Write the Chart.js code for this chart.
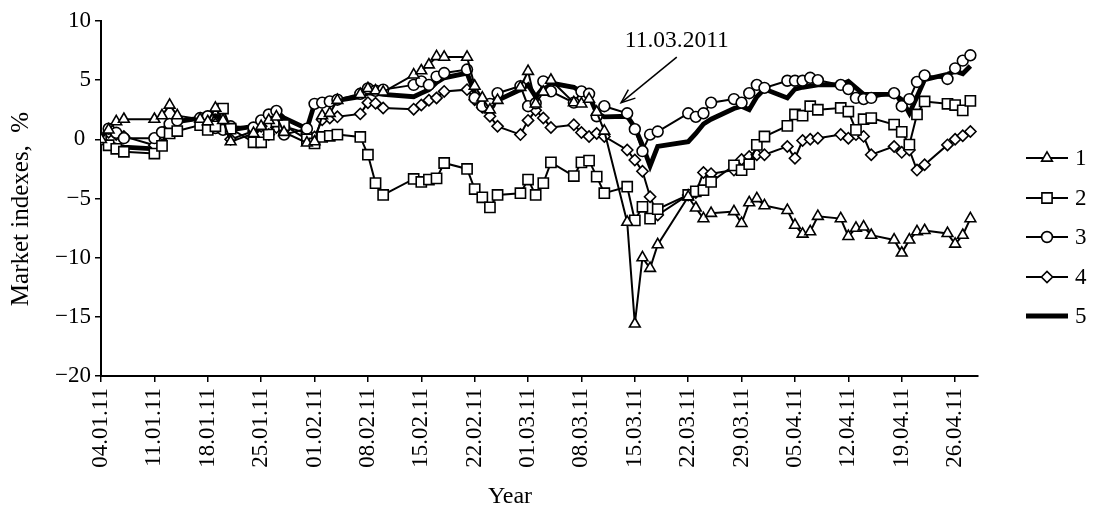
<!DOCTYPE html>
<html><head><meta charset="utf-8">
<script src="https://cdn.jsdelivr.net/npm/chart.js@4.4.0/dist/chart.umd.min.js"></script>
<style>html,body{margin:0;padding:0;background:#fff}#wrap{width:1094px;height:509px}</style>
</head><body><div id="wrap"><canvas id="c" width="1094" height="509"></canvas></div>
<script>
// Trading days (dd.mm, 2011)
const dates = [
 '04.01','05.01','06.01','07.01','11.01','12.01','13.01','14.01','17.01','18.01','19.01','20.01','21.01','24.01','25.01','26.01','27.01','28.01','31.01',
 '01.02','02.02','03.02','04.02','07.02','08.02','09.02','10.02','14.02','15.02','16.02','17.02','18.02','21.02','22.02','23.02','24.02','25.02','28.02',
 '01.03','02.03','03.03','04.03','07.03','08.03','09.03','10.03','11.03','14.03','15.03','16.03','17.03','18.03','22.03','23.03','24.03','25.03','28.03','29.03','30.03','31.03',
 '01.04','04.04','05.04','06.04','07.04','08.04','11.04','12.04','13.04','14.04','15.04','18.04','19.04','20.04','21.04','22.04','25.04','26.04','27.04','28.04'
];
const series1 = [
 0,0.8,1.5,1.7, 1.7,2.0,2.9,2.0, 1.7,1.5,2.65,1.6,-0.2, 0.5,1.1,1.6,1.9,0.6, -0.3,
 -0.2,2.0,2.2,3.3, 3.8,4.3,4.1,4.0, 5.45,5.8,6.3,7.0,6.95, 6.95,4.5,3.5,2.5,3.3, 4.4,
 5.75,3.0,4.0,5.0, 3.1,3.0,3.4,2.3,0.7, -7.0,-15.6,-10.0,-10.9,-8.9, -4.85,-5.8,-6.7,-6.25, -6.1,-7.1,-5.35,-5.0,
 -5.6, -6.0,-7.25,-8.0,-7.8,-6.5, -6.7,-8.2,-7.5,-7.4,-8.1, -8.5,-9.6,-8.5,-7.8,-7.7, -7.95,-8.85,-8.1,-6.7
];
const series2 = [
 0,-0.5,-0.8,-1.05, -1.2,-0.55,0.5,0.7, 1.2,0.8,1.1,2.6,0.9, -0.25,-0.25,0.4,1.5,1.2, 0.0,
 -0.35,0.2,0.3,0.4, 0.2,-1.3,-3.7,-4.7, -3.35,-3.6,-3.4,-3.3,-2.0, -2.5,-4.2,-4.9,-5.75,-4.7, -4.55,
 -3.4,-4.7,-3.7,-1.95, -3.1,-1.95,-1.8,-3.15,-4.55, -4.0,-6.85,-5.7,-6.7,-5.9, -4.7,-4.4,-4.3,-3.6, -2.2,-2.6,-2.1,-0.47,
 0.24, 1.14,2.1,2.0,2.8,2.5, 2.65,2.35,0.8,1.7,1.8, 1.25,0.63,-0.45,2.1,3.2, 3.0,2.9,2.45,3.25
];
const series3 = [
 0,0.9,0.55,0.1, 0.1,0.6,1.3,1.6, 1.8,1.95,0.95,0.8,1.1, 1.0,1.6,2.1,2.4,0.4, 0.9,
 3.0,3.1,3.2,3.35, 3.85,4.3,4.1,4.2, 4.6,4.9,4.6,5.3,5.6, 5.9,3.5,2.8,3.0,3.9, 4.5,
 2.8,3.05,4.9,4.05, 3.1,4.05,3.85,1.95,2.8, 2.2,0.86,-1.0,0.4,0.66, 2.2,1.9,2.2,3.1, 3.4,3.1,3.9,4.6,
 4.35, 4.95,4.95,4.95,5.2,5.0, 4.6,4.25,3.5,3.4,3.5, 3.9,2.8,3.4,4.85,5.4, 5.1,6.0,6.65,7.1
];
const series4 = [
 0,0.6,0.4,0.25, -0.5,0.4,1.1,1.5, 1.7,1.9,1.3,1.0,0.0, 0.7,1.1,0.4,1.0,1.1, 0.5,
 0.2,1.65,1.8,1.9, 2.15,3.1,3.05,2.65, 2.55,2.9,3.3,3.5,4.05, 4.2,3.35,2.7,1.95,1.1, 0.4,
 1.6,2.45,1.8,1.0, 1.23,0.58,0.24,0.5,0.24, -0.9,-1.75,-2.7,-4.85,-6.4, -4.7,-4.5,-2.8,-2.9, -2.6,-1.7,-1.45,-1.3,
 -1.3, -0.6,-1.6,-0.1,0.0,0.1, 0.4,0.1,0.4,0.25,-1.3, -0.6,-1.1,-0.9,-2.6,-2.15, -0.47,0.0,0.3,0.66
];
const series5 = [
 0,-0.3,-0.5,-0.65, -0.8,-0.3,1.0,1.5, 1.8,1.9,2.0,1.7,0.8, 1.1,1.6,2.2,2.4,1.8, 0.9,
 3.0,3.1,3.2,3.3, 3.6,3.9,3.9,3.8, 3.6,3.9,4.2,4.8,5.2, 5.6,3.9,3.0,2.8,3.3, 4.2,
 4.6,3.6,4.35,4.75, 4.4,4.0,3.7,2.2,1.9, 1.95,1.0,-0.5,-2.25,-0.6, -0.2,0.5,1.3,1.7, 2.6,2.8,2.5,3.6,
 4.25, 3.5,4.25,4.4,4.5,4.6, 4.6,4.9,4.35,3.8,3.8, 3.8,3.35,2.2,3.6,5.05, 5.5,5.75,5.55,6.2
];
const seriesLabels = ['1','2','3','4','5'];
const xTickLabels = ['04.01.11','11.01.11','18.01.11','25.01.11','01.02.11','08.02.11','15.02.11','22.02.11',
 '01.03.11','08.03.11','15.03.11','22.03.11','29.03.11','05.04.11','12.04.11','19.04.11','26.04.11'];
const annotationText = '11.03.2011';
const xTitle = 'Year';
const yTitle = 'Market indexes,  %';

function dayOf(s){ const p = s.split('.').map(Number); return (Date.UTC(2011,p[1]-1,p[0]) - Date.UTC(2011,0,4))/86400000; }
const xDays = dates.map(dayOf);
const toXY = arr => arr.map((v,i)=>({x:xDays[i], y:v}));

const FONT = "'Liberation Serif','Times New Roman',serif";
Chart.defaults.font.family = FONT;
Chart.defaults.font.size = 23;
Chart.defaults.color = '#000';

function ds(label, data, style, radius, bw){
  return {label, data: toXY(data), pointStyle: style, pointRadius: radius, pointHoverRadius: radius,
    borderColor:'#000', borderWidth: bw, pointBackgroundColor:'#fff', pointBorderColor:'#000',
    pointBorderWidth:1.6, tension:0, fill:false};
}

const extras = {
  id:'extras',
  afterDraw(chart){
    const ctx = chart.ctx, xs = chart.scales.x, ys = chart.scales.y;
    ctx.save();
    // annotation arrow
    const tail = {x: xs.getPixelForValue(75.5), y: ys.getPixelForValue(6.95)};
    const tip = {x: xs.getPixelForValue(68.2), y: ys.getPixelForValue(3.1)};
    ctx.strokeStyle = '#000'; ctx.lineWidth = 1.5;
    ctx.beginPath(); ctx.moveTo(tail.x, tail.y); ctx.lineTo(tip.x, tip.y); ctx.stroke();
    const ang = Math.atan2(tail.y - tip.y, tail.x - tip.x), L = 15, a = 0.38;
    ctx.beginPath();
    ctx.moveTo(tip.x + L*Math.cos(ang + a), tip.y + L*Math.sin(ang + a));
    ctx.lineTo(tip.x, tip.y);
    ctx.lineTo(tip.x + L*Math.cos(ang - a), tip.y + L*Math.sin(ang - a));
    ctx.stroke();
    ctx.fillStyle = '#000';
    ctx.font = '23.5px ' + FONT;
    ctx.textAlign = 'center'; ctx.textBaseline = 'alphabetic';
    ctx.fillText(annotationText, xs.getPixelForValue(75.5), 46.5);
    // x title
    ctx.font = '24px ' + FONT;
    ctx.fillText(xTitle, 510, 503);
    // y title
    ctx.save();
    ctx.translate(27.5, 209); ctx.rotate(-Math.PI/2);
    ctx.font = '25px ' + FONT;
    ctx.fillText(yTitle, 0, 0);
    ctx.restore();
    // legend
    const rowY = [158, 198, 237, 277, 316];
    ctx.font = '23px ' + FONT;
    chart.data.datasets.forEach((d, i) => {
      const y = rowY[i];
      ctx.strokeStyle = '#000'; ctx.lineWidth = d.borderWidth;
      ctx.beginPath(); ctx.moveTo(1026, y); ctx.lineTo(1068, y); ctx.stroke();
      if (d.pointRadius > 0 && Chart.helpers && Chart.helpers.drawPoint) {
        ctx.fillStyle = '#fff'; ctx.strokeStyle = '#000'; ctx.lineWidth = d.pointBorderWidth;
        Chart.helpers.drawPoint(ctx, {pointStyle: d.pointStyle, rotation: 0, radius: d.pointRadius, borderWidth: d.pointBorderWidth}, 1047, y);
      }
      ctx.fillStyle = '#000'; ctx.textAlign = 'left'; ctx.textBaseline = 'middle';
      ctx.fillText(d.label, 1075, y + 1);
    });
    ctx.restore();
  }
};

new Chart(document.getElementById('c'), {
  type:'line',
  data:{ datasets:[
    ds(seriesLabels[0], series1, 'triangle', 6.2, 2),
    ds(seriesLabels[1], series2, 'rect', 7.2, 2),
    ds(seriesLabels[2], series3, 'circle', 5.4, 2),
    ds(seriesLabels[3], series4, 'rectRot', 5.6, 2),
    Object.assign(ds(seriesLabels[4], series5, 'circle', 0, 4.8), {pointRadius:0, pointHoverRadius:0})
  ]},
  options:{
    responsive:false, animation:false, events:[],
    layout:{padding:{left:0, right:116, top:21, bottom:0}},
    plugins:{legend:{display:false}, tooltip:{enabled:false}},
    scales:{
      x:{type:'linear', min:0, max:115,
        afterBuildTicks: s => { s.ticks = xTickLabels.map(l => ({value: dayOf(l)})); },
        afterFit: s => { s.height = 133; },
        ticks:{autoSkip:false, maxRotation:90, minRotation:90, padding:6,
          callback:(v, i) => xTickLabels[i]},
        grid:{drawOnChartArea:false, drawTicks:true, tickLength:6, color:'#000', lineWidth:1.5},
        border:{color:'#000', width:2}
      },
      y:{min:-20, max:10,
        afterFit: s => { s.width = 101; },
        ticks:{stepSize:5, padding:4, callback: v => v < 0 ? '\u2212' + Math.abs(v) : (v === 0 ? '0 ' : String(v))},
        grid:{drawOnChartArea:false, drawTicks:true, tickLength:6, color:'#000', lineWidth:1.5},
        border:{color:'#000', width:2},
        title:{display:false}
      }
    }
  },
  plugins:[extras]
});
</script></body></html>
